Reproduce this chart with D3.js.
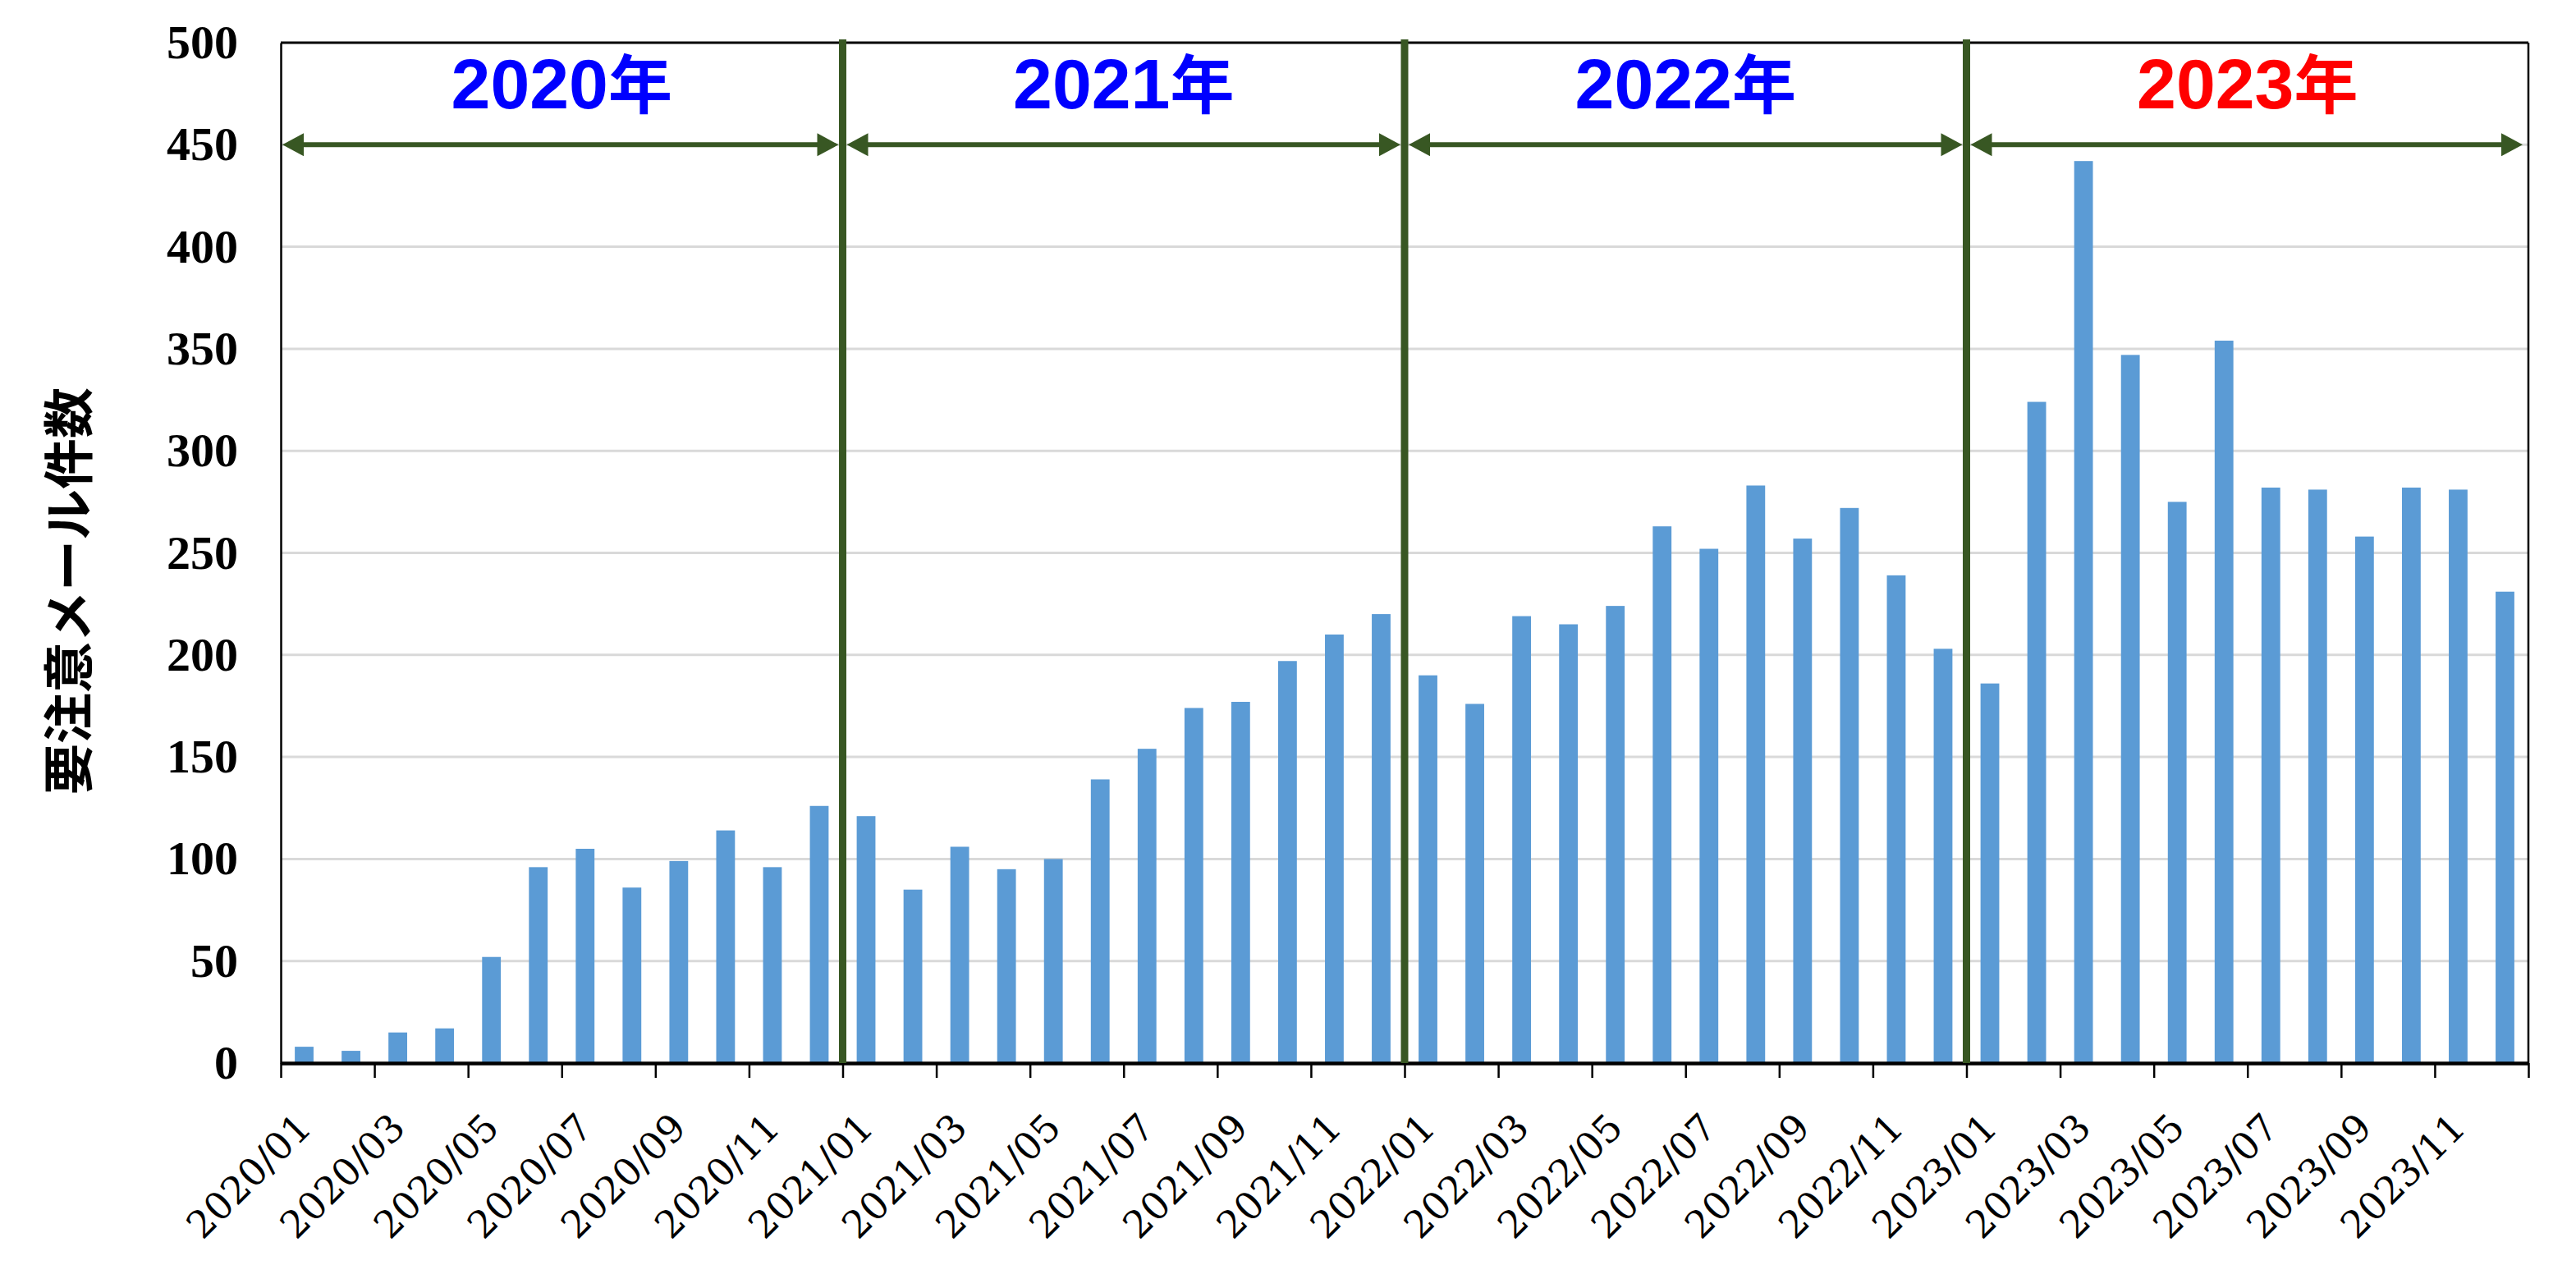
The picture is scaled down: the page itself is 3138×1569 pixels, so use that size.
<!DOCTYPE html>
<html><head><meta charset="utf-8">
<script src="https://cdn.jsdelivr.net/npm/d3@7"></script>
<style>html,body{margin:0;padding:0;background:#fff;} svg{display:block;}</style>
</head><body>
<svg id="chart" width="3138" height="1569"></svg>
<script>
// ---- data ----
const months = [
  "2020/01","2020/02","2020/03","2020/04","2020/05","2020/06","2020/07","2020/08","2020/09","2020/10","2020/11","2020/12",
  "2021/01","2021/02","2021/03","2021/04","2021/05","2021/06","2021/07","2021/08","2021/09","2021/10","2021/11","2021/12",
  "2022/01","2022/02","2022/03","2022/04","2022/05","2022/06","2022/07","2022/08","2022/09","2022/10","2022/11","2022/12",
  "2023/01","2023/02","2023/03","2023/04","2023/05","2023/06","2023/07","2023/08","2023/09","2023/10","2023/11","2023/12"
];
const counts = [
  8, 6, 15, 17, 52, 96, 105, 86, 99, 114, 96, 126,
  121, 85, 106, 95, 100, 139, 154, 174, 177, 197, 210, 220,
  190, 176, 219, 215, 224, 263, 252, 283, 257, 272, 239, 203,
  186, 324, 442, 347, 275, 354, 282, 281, 258, 282, 281, 231
];
const yearLabels = ["2020年", "2021年", "2022年", "2023年"];
const yTicks = [0, 50, 100, 150, 200, 250, 300, 350, 400, 450, 500];
const xTickLabels = ["2020/01","2020/03","2020/05","2020/07","2020/09","2020/11",
  "2021/01","2021/03","2021/05","2021/07","2021/09","2021/11",
  "2022/01","2022/03","2022/05","2022/07","2022/09","2022/11",
  "2023/01","2023/03","2023/05","2023/07","2023/09","2023/11"];
const arrowLevel = 450;
const yTitle = "要注意メール件数";

// ---- styles ----
const yearColors = ["#0000FF", "#0000FF", "#0000FF", "#FF0000"];
const green = "#385723";
const barColor = "#5B9BD5";

// ---- layout ----
const m = {left: 342, right: 3080, top: 52, bottom: 1295};
const svg = d3.select("#chart");

const x = d3.scaleBand().domain(months).range([m.left, m.right])
  .paddingInner(0.6).paddingOuter(0.3);
const xb = d3.scaleLinear().domain([0, months.length]).range([m.left, m.right]);
const y = d3.scaleLinear().domain([0, 500]).range([m.bottom, m.top]);

// gridlines
svg.append("g").selectAll("line")
  .data(yTicks.filter(v => v > 0 && v < 500)).join("line")
  .attr("x1", m.left).attr("x2", m.right)
  .attr("y1", d => y(d)).attr("y2", d => y(d))
  .attr("stroke", "#D9D9D9").attr("stroke-width", 3);

// bars
svg.append("g").selectAll("rect").data(counts).join("rect")
  .attr("x", (d, i) => x(months[i]))
  .attr("width", x.bandwidth())
  .attr("y", d => y(d))
  .attr("height", d => y(0) - y(d))
  .attr("fill", barColor);

// plot border (top, right)
svg.append("line").attr("x1", m.left).attr("x2", m.right).attr("y1", y(500)).attr("y2", y(500))
  .attr("stroke", "#000").attr("stroke-width", 3);
svg.append("line").attr("x1", m.right).attr("x2", m.right).attr("y1", y(500)).attr("y2", y(0))
  .attr("stroke", "#000").attr("stroke-width", 2.5);

// y axis
const yAxis = svg.append("g").attr("transform", `translate(${m.left},0)`)
  .call(d3.axisLeft(y).tickValues(yTicks).tickSize(0).tickPadding(52));
yAxis.select(".domain").attr("stroke", "#000").attr("stroke-width", 2.5);
yAxis.selectAll("text")
  .attr("font-family", "'Liberation Serif', 'Times New Roman', serif")
  .attr("font-weight", "bold").attr("font-size", 58).attr("fill", "#000");

// x axis ticks (boundaries every 2 months)
const xAxis = svg.append("g").attr("transform", `translate(0,${m.bottom})`)
  .call(d3.axisBottom(xb).tickValues(d3.range(0, months.length + 1, 2)).tickFormat("").tickSize(18).tickSizeOuter(0));
xAxis.select(".domain").attr("stroke", "#000").attr("stroke-width", 4.5);
xAxis.selectAll(".tick line").attr("stroke", "#000").attr("stroke-width", 2.5);

// x labels
svg.append("g").selectAll("text").data(xTickLabels).join("text")
  .attr("transform", d => `translate(${x(d) + x.bandwidth() / 2},1365) rotate(-45)`)
  .attr("text-anchor", "end").attr("dy", "0.35em")
  .attr("font-family", "'DejaVu Serif', serif")
  .attr("font-size", 46).attr("fill", "#000")
  .text(d => d);

// year dividers
const dividerIdx = [12, 24, 36];
svg.append("g").selectAll("line").data(dividerIdx).join("line")
  .attr("x1", d => xb(d)).attr("x2", d => xb(d))
  .attr("y1", y(500) - 4).attr("y2", y(0))
  .attr("stroke", green).attr("stroke-width", 9);

// double arrows
const ay = y(arrowLevel);
const headL = 26, headH = 14;
const arrows = svg.append("g");
yearLabels.forEach((lab, k) => {
  const x0 = xb(k * 12) + (k === 0 ? 2 : 5);
  const x1 = xb((k + 1) * 12) - (k === 3 ? 7 : 5);
  arrows.append("line").attr("x1", x0 + headL - 2).attr("x2", x1 - headL + 2)
    .attr("y1", ay).attr("y2", ay).attr("stroke", green).attr("stroke-width", 6);
  arrows.append("path")
    .attr("d", `M${x0},${ay} L${x0 + headL},${ay - headH} L${x0 + headL},${ay + headH} Z`)
    .attr("fill", green);
  arrows.append("path")
    .attr("d", `M${x1},${ay} L${x1 - headL},${ay - headH} L${x1 - headL},${ay + headH} Z`)
    .attr("fill", green);
});

// year labels
const yl = svg.append("g").selectAll("text").data(yearLabels).join("text")
  .attr("x", (d, k) => (xb(k * 12) + xb((k + 1) * 12)) / 2)
  .attr("y", 132)
  .attr("text-anchor", "middle")
  .attr("font-weight", "bold")
  .attr("fill", (d, k) => yearColors[k]);
yl.append("tspan")
  .attr("font-family", "'Liberation Sans', Arial, sans-serif")
  .attr("font-size", 86)
  .text(d => d.slice(0, 4));
yl.append("tspan")
  .attr("font-family", "'Noto Sans CJK JP', sans-serif")
  .attr("font-size", 78)
  .text(d => d.slice(4));

// y title
svg.append("text")
  .attr("transform", `translate(80,720) rotate(-90)`)
  .attr("text-anchor", "middle").attr("dominant-baseline", "central")
  .attr("font-family", "'Noto Sans CJK JP', sans-serif")
  .attr("font-weight", "bold").attr("font-size", 62).attr("fill", "#000")
  .text(yTitle);
</script>
</body></html>
